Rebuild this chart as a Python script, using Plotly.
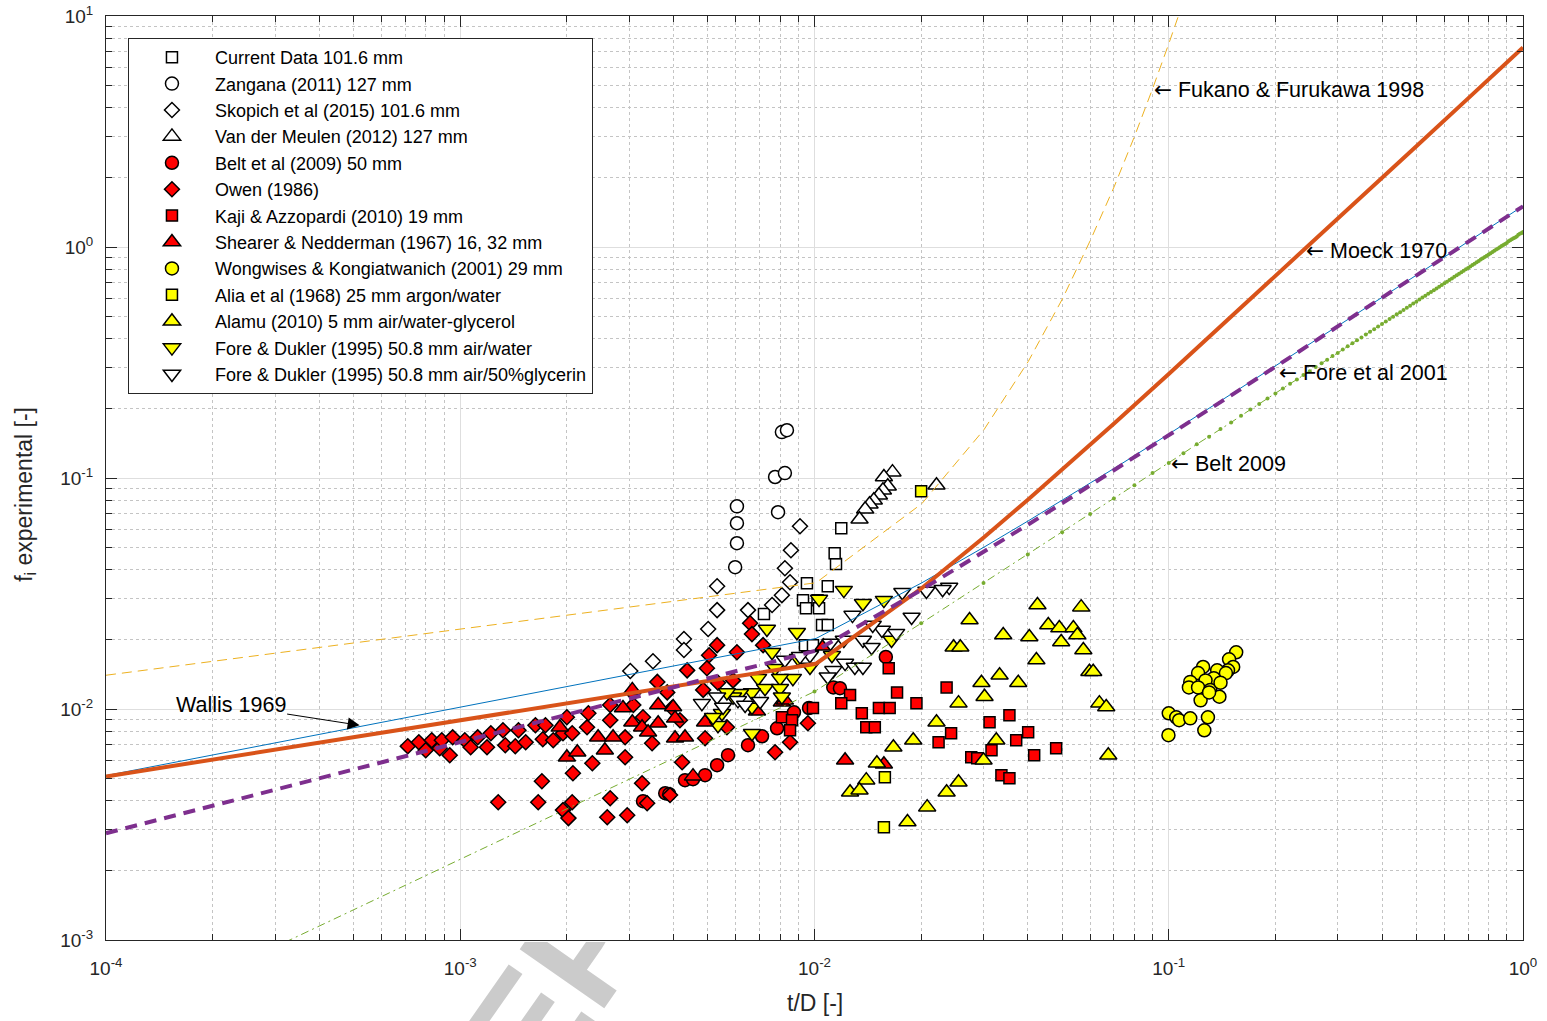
import math
import base64
import plotly.graph_objects as go

# ---------------- experimental data (t/D, f_i) ----------------
cur_td = [7.20e-3, 9.28e-3, 9.52e-3, 1.02e-2, 1.03e-2, 9.46e-3, 1.09e-2, 1.15e-2, 1.14e-2, 1.19e-2, 1.05e-2, 1.09e-2, 9.40e-3, 9.90e-3]
cur_f = [0.0258, 0.0296, 0.0350, 0.0296, 0.0273, 0.0273, 0.0340, 0.0424, 0.0472, 0.0606, 0.0231, 0.0231, 0.0189, 0.0189]

zan_td = [8.09e-3, 8.36e-3, 7.74e-3, 8.25e-3, 6.04e-3, 6.04e-3, 6.04e-3, 5.97e-3, 7.89e-3]
zan_f = [0.158, 0.161, 0.101, 0.105, 0.0754, 0.0637, 0.0522, 0.0411, 0.0711]

sko_td = [9.10e-3, 8.58e-3, 8.25e-3, 8.53e-3, 8.09e-3, 7.59e-3, 6.49e-3, 5.31e-3, 5.31e-3, 5.01e-3, 4.28e-3, 4.28e-3, 3.50e-3, 3.02e-3]
sko_f = [0.0618, 0.0487, 0.0407, 0.0354, 0.0311, 0.0282, 0.0268, 0.0340, 0.0268, 0.0222, 0.0201, 0.0180, 0.0161, 0.0146]

vdm_td = [1.66e-2, 1.57e-2, 1.61e-2, 1.56e-2, 1.52e-2, 1.47e-2, 1.43e-2, 1.39e-2, 1.34e-2, 2.21e-2]
vdm_f = [0.106, 0.101, 0.0921, 0.0885, 0.0842, 0.0801, 0.0770, 0.0732, 0.0663, 0.0930]

belt_td = [3.28e-3, 3.79e-3, 3.89e-3, 4.31e-3, 4.54e-3, 4.91e-3, 5.31e-3, 5.70e-3, 6.49e-3, 7.11e-3, 7.84e-3, 8.75e-3, 9.65e-3, 1.13e-2, 1.18e-2, 1.59e-2]
belt_fi = [3.99e-3, 4.32e-3, 4.28e-3, 4.92e-3, 4.97e-3, 5.17e-3, 5.71e-3, 6.31e-3, 6.97e-3, 7.62e-3, 8.25e-3, 9.68e-3, 1.01e-2, 1.24e-2, 1.23e-2, 1.68e-2]

owen_td = [7.11e-4, 7.64e-4, 7.99e-4, 8.31e-4, 8.75e-4, 8.87e-4, 9.34e-4, 9.52e-4, 1.03e-3, 1.07e-3,
           1.12e-3, 1.19e-3, 1.22e-3, 1.32e-3, 1.34e-3, 1.43e-3, 1.46e-3, 1.53e-3, 1.63e-3, 1.71e-3,
           1.74e-3, 1.83e-3, 1.95e-3,
           1.28e-3, 1.66e-3, 1.70e-3, 1.95e-3, 2.02e-3, 2.07e-3, 2.08e-3, 2.36e-3, 2.65e-3, 2.60e-3,
           2.96e-3, 3.26e-3, 3.37e-3, 3.91e-3, 2.92e-3, 3.48e-3, 4.23e-3, 7.74e-3, 8.53e-3, 9.58e-3,
           2.00e-3, 2.30e-3, 2.07e-3, 2.28e-3, 2.65e-3, 2.65e-3, 3.08e-3, 3.06e-3, 2.92e-3, 3.28e-3,
           3.60e-3, 3.84e-3, 3.96e-3, 4.17e-3, 4.37e-3, 4.85e-3, 4.97e-3, 5.34e-3, 5.04e-3, 5.31e-3,
           6.04e-3, 4.91e-3, 5.66e-3, 6.58e-3, 6.66e-3, 7.16e-3, 5.89e-3]
owen_f = [6.90e-3, 7.18e-3, 6.63e-3, 7.32e-3, 6.76e-3, 7.32e-3, 6.31e-3, 7.54e-3, 7.32e-3, 6.83e-3,
          7.54e-3, 6.83e-3, 7.85e-3, 8.09e-3, 6.97e-3, 6.90e-3, 8.09e-3, 7.18e-3, 8.50e-3, 7.40e-3,
          8.50e-3, 7.32e-3, 7.85e-3,
          3.95e-3, 3.95e-3, 4.87e-3, 3.65e-3, 3.37e-3, 3.95e-3, 5.27e-3, 5.82e-3, 4.11e-3, 3.40e-3,
          3.47e-3, 4.77e-3, 3.91e-3, 4.24e-3, 6.18e-3, 7.11e-3, 5.88e-3, 6.50e-3, 7.18e-3, 8.67e-3,
          9.21e-3, 9.58e-3, 7.85e-3, 8.33e-3, 1.04e-2, 8.94e-3, 1.04e-2, 1.18e-2, 7.54e-3, 9.21e-3,
          1.31e-2, 1.18e-2, 1.01e-2, 8.94e-3, 1.47e-2, 1.21e-2, 1.50e-2, 1.30e-2, 1.71e-2, 1.89e-2,
          1.76e-2, 7.47e-3, 8.33e-3, 2.35e-2, 2.11e-2, 1.89e-2, 1.33e-2]

kaji_td = [8.09e-3, 8.64e-3, 8.53e-3, 9.90e-3, 1.62e-2, 1.26e-2, 1.19e-2, 1.71e-2, 1.52e-2, 1.63e-2,
           1.36e-2, 1.40e-2, 1.48e-2, 1.94e-2, 2.36e-2, 3.12e-2, 3.55e-2, 2.43e-2, 2.24e-2, 3.71e-2,
           4.01e-2, 3.16e-2, 2.77e-2, 2.88e-2, 4.17e-2, 4.81e-2, 3.37e-2, 3.55e-2]
kaji_f = [9.21e-3, 8.94e-3, 8.09e-3, 1.01e-2, 1.50e-2, 1.15e-2, 1.06e-2, 1.18e-2, 1.01e-2, 1.01e-2,
          9.58e-3, 8.33e-3, 8.33e-3, 1.06e-2, 1.24e-2, 8.76e-3, 9.39e-3, 7.85e-3, 7.18e-3, 7.32e-3,
          7.93e-3, 6.63e-3, 6.18e-3, 6.12e-3, 6.31e-3, 6.76e-3, 5.17e-3, 5.02e-3]

shear_td = [1.91e-3, 2.00e-3, 2.14e-3, 2.45e-3, 2.56e-3, 2.70e-3, 2.88e-3, 3.06e-3, 3.06e-3, 3.26e-3,
            3.39e-3, 3.62e-3, 3.62e-3, 3.99e-3, 4.04e-3, 4.04e-3, 4.31e-3, 4.91e-3, 4.54e-3, 6.88e-3,
            8.09e-3, 8.25e-3, 1.06e-2, 1.22e-2, 1.57e-2]
shear_f = [8.33e-3, 6.18e-3, 6.50e-3, 7.54e-3, 6.63e-3, 7.54e-3, 1.01e-2, 1.21e-2, 8.76e-3, 8.33e-3,
           7.93e-3, 1.04e-2, 8.67e-3, 1.02e-2, 9.11e-3, 7.47e-3, 7.54e-3, 8.76e-3, 5.12e-3, 9.77e-3,
           1.07e-2, 1.09e-2, 1.87e-2, 6.00e-3, 5.77e-3]

wong_td = [0.155, 0.148, 0.152, 0.147, 0.125, 0.121, 0.137, 0.145, 0.134, 0.127,
           0.115, 0.114, 0.121, 0.131, 0.140, 0.123, 0.139, 0.130, 0.100, 0.105,
           0.107, 0.115, 0.129, 0.126, 0.0998]
wong_f = [1.76e-2, 1.64e-2, 1.52e-2, 1.47e-2, 1.52e-2, 1.43e-2, 1.47e-2, 1.43e-2, 1.36e-2, 1.33e-2,
          1.31e-2, 1.24e-2, 1.24e-2, 1.21e-2, 1.30e-2, 1.09e-2, 1.13e-2, 1.18e-2, 9.58e-3, 9.21e-3,
          8.94e-3, 9.11e-3, 9.21e-3, 8.09e-3, 7.70e-3]

alia_td = [2.00e-2, 1.58e-2, 1.57e-2]
alia_f = [8.76e-2, 5.07e-3, 3.08e-3]

alamu_td = [4.26e-2, 5.66e-2, 2.74e-2, 4.57e-2, 4.91e-2, 5.38e-2, 5.52e-2, 3.41e-2, 4.04e-2, 4.97e-2,
            2.47e-2, 2.58e-2, 5.74e-2, 4.23e-2, 5.97e-2, 6.12e-2, 3.33e-2, 2.96e-2, 3.76e-2, 3.02e-2,
            2.55e-2, 6.37e-2, 6.66e-2, 2.21e-2, 3.26e-2, 1.90e-2, 1.67e-2, 3.00e-2, 1.50e-2, 1.40e-2,
            1.26e-2, 1.34e-2, 2.55e-2, 2.36e-2, 2.08e-2, 1.83e-2, 6.75e-2]
alamu_f = [2.82e-2, 2.76e-2, 2.43e-2, 2.31e-2, 2.24e-2, 2.24e-2, 2.09e-2, 2.09e-2, 2.05e-2, 1.95e-2,
           1.85e-2, 1.85e-2, 1.80e-2, 1.63e-2, 1.45e-2, 1.45e-2, 1.40e-2, 1.30e-2, 1.30e-2, 1.13e-2,
           1.06e-2, 1.06e-2, 1.02e-2, 8.76e-3, 7.32e-3, 7.32e-3, 6.83e-3, 6.00e-3, 5.82e-3, 4.92e-3,
           4.36e-3, 4.45e-3, 4.82e-3, 4.36e-3, 3.76e-3, 3.24e-3, 6.31e-3]

fdw_td = [1.21e-2, 1.03e-2, 1.37e-2, 1.57e-2, 7.34e-3, 8.92e-3, 1.65e-2, 7.59e-3, 8.98e-3, 9.71e-3,
          1.12e-2, 7.74e-3, 8.69e-3, 7.99e-3, 6.93e-3, 7.25e-3, 7.99e-3, 8.09e-3, 6.66e-3, 6.16e-3,
          5.89e-3, 5.48e-3, 5.34e-3, 5.17e-3, 6.66e-3, 6.66e-3, 5.66e-3]
fdw_f = [3.27e-2, 2.99e-2, 2.87e-2, 2.96e-2, 2.22e-2, 2.15e-2, 1.99e-2, 1.76e-2, 1.66e-2, 1.52e-2,
         1.71e-2, 1.50e-2, 1.36e-2, 1.36e-2, 1.36e-2, 1.23e-2, 1.23e-2, 1.13e-2, 1.18e-2, 1.17e-2,
         1.13e-2, 9.58e-3, 8.50e-3, 9.21e-3, 7.85e-3, 1.02e-2, 1.18e-2]

fdg_td = [2.40e-2, 2.30e-2, 2.07e-2, 1.77e-2, 1.88e-2, 1.28e-2, 1.55e-2, 1.70e-2, 1.46e-2, 1.37e-2,
          1.45e-2, 1.21e-2, 1.11e-2, 1.22e-2, 1.30e-2, 1.37e-2, 1.13e-2, 1.09e-2, 9.71e-3, 8.25e-3,
          6.08e-3, 4.81e-3, 5.31e-3, 5.52e-3, 6.37e-3, 9.10e-3, 7.02e-3]
fdg_f = [3.37e-2, 3.30e-2, 3.24e-2, 3.20e-2, 2.50e-2, 2.55e-2, 2.20e-2, 2.13e-2, 2.31e-2, 1.99e-2,
         1.85e-2, 1.99e-2, 1.93e-2, 1.58e-2, 1.52e-2, 1.52e-2, 1.47e-2, 1.38e-2, 1.71e-2, 1.63e-2,
         1.09e-2, 1.06e-2, 1.13e-2, 1.02e-2, 1.04e-2, 1.69e-2, 1.08e-2]

# ---------------- correlation curves ----------------
fuk_td = [0.0001, 0.0101, 0.0201, 0.0301, 0.0401, 0.0501, 0.0601, 0.0701, 0.0801, 0.0901, 0.1001, 0.1101]
fuk_f = [0.0140, 0.0352, 0.0775, 0.162, 0.319, 0.596, 1.07, 1.82, 3.02, 4.86, 7.61, 11.6]

corr_td = [0.0001, 0.0101, 0.0201, 0.0301, 0.0401, 0.0501, 0.0701, 0.1, 0.15, 0.2, 0.3, 0.5, 0.7, 1.0]
wallis_f = [0.00515, 0.0202, 0.0352, 0.0502, 0.0652, 0.0802, 0.110, 0.155, 0.230, 0.305, 0.455, 0.755, 1.055, 1.505]
moeck_f = [0.00510, 0.0157, 0.0334, 0.0554, 0.0807, 0.109, 0.172, 0.282, 0.498, 0.747, 1.32, 2.73, 4.40, 7.30]
fore01_f = [0.00290, 0.0179, 0.0329, 0.0479, 0.0629, 0.0779, 0.108, 0.153, 0.228, 0.303, 0.453, 0.753, 1.05, 1.50]

beltc_td = [0.0001] + [round(0.01 * k, 2) for k in range(1, 101)]
beltc_f = [0.00042,
           0.0119, 0.0235, 0.0351, 0.0467, 0.0583, 0.0699, 0.0815, 0.0931, 0.105, 0.116,
           0.128, 0.140, 0.151, 0.163, 0.174, 0.186, 0.198, 0.209, 0.221, 0.232,
           0.244, 0.256, 0.267, 0.279, 0.290, 0.302, 0.314, 0.325, 0.337, 0.348,
           0.360, 0.372, 0.383, 0.395, 0.406, 0.418, 0.430, 0.441, 0.453, 0.464,
           0.476, 0.488, 0.499, 0.511, 0.522, 0.534, 0.546, 0.557, 0.569, 0.580,
           0.592, 0.604, 0.615, 0.627, 0.638, 0.650, 0.662, 0.673, 0.685, 0.696,
           0.708, 0.720, 0.731, 0.743, 0.754, 0.766, 0.778, 0.789, 0.801, 0.812,
           0.824, 0.836, 0.847, 0.859, 0.870, 0.882, 0.894, 0.905, 0.917, 0.928,
           0.940, 0.952, 0.963, 0.975, 0.986, 0.998, 1.01, 1.02, 1.03, 1.04,
           1.06, 1.07, 1.08, 1.09, 1.10, 1.11, 1.13, 1.14, 1.15, 1.16]

x_tickvals = [1e-4, 1e-3, 1e-2, 1e-1, 1]
x_ticktext = ['10<sup>-4</sup>', '10<sup>-3</sup>', '10<sup>-2</sup>', '10<sup>-1</sup>', '10<sup>0</sup>']
y_tickvals = [1e-3, 1e-2, 1e-1, 1, 10]
y_ticktext = ['10<sup>-3</sup>', '10<sup>-2</sup>', '10<sup>-1</sup>', '10<sup>0</sup>', '10<sup>1</sup>']

# ---------------- figure ----------------
FONT = 'Liberation Sans, Arial, Helvetica, sans-serif'
ARROW = '<span style="font-family:DejaVu Sans">\u2190</span> '
fig = go.Figure()

series = [
    ('Current Data 101.6 mm', cur_td, cur_f, 'square', 'white', 11),
    ('Zangana (2011) 127 mm', zan_td, zan_f, 'circle', 'white', 13),
    ('Skopich et al (2015) 101.6 mm', sko_td, sko_f, 'diamond', 'white', 11.5),
    ('Van der Meulen (2012) 127 mm', vdm_td, vdm_f, 'triangle-up', 'white', 15),
    ('Belt et al (2009) 50 mm', belt_td, belt_fi, 'circle', '#FF0000', 13),
    ('Owen (1986)', owen_td, owen_f, 'diamond', '#FF0000', 11.5),
    ('Kaji & Azzopardi (2010) 19 mm', kaji_td, kaji_f, 'square', '#FF0000', 11),
    ('Shearer & Nedderman (1967) 16, 32 mm', shear_td, shear_f, 'triangle-up', '#FF0000', 15),
    ('Wongwises & Kongiatwanich (2001) 29 mm', wong_td, wong_f, 'circle', '#FFFF00', 13),
    ('Alia et al (1968) 25 mm argon/water', alia_td, alia_f, 'square', '#FFFF00', 11),
    ('Alamu (2010) 5 mm air/water-glycerol', alamu_td, alamu_f, 'triangle-up', '#FFFF00', 15),
    ('Fore & Dukler (1995) 50.8 mm air/water', fdw_td, fdw_f, 'triangle-down', '#FFFF00', 15),
    ('Fore & Dukler (1995) 50.8 mm air/50%glycerin', fdg_td, fdg_f, 'triangle-down', 'white', 15),
]
for i, (name, xs, ys, sym, col, sz) in enumerate(series):
    fig.add_trace(go.Scatter(
        x=xs, y=ys, mode='markers', name=name, legendgroup='g%d' % i,
        marker=dict(symbol=sym, size=sz, color=col, line=dict(color='black', width=1.5)),
    ))

fig.add_trace(go.Scatter(x=fuk_td, y=fuk_f, mode='lines', showlegend=False,
                         line=dict(color='#EDB120', width=1, dash='10px,6px')))
fig.add_trace(go.Scatter(x=beltc_td, y=beltc_f, mode='lines+markers', showlegend=False,
                         line=dict(color='#77AC30', width=1, dash='8px,4px,2px,4px'),
                         marker=dict(color='#77AC30', size=4, symbol='circle')))
fig.add_trace(go.Scatter(x=corr_td, y=wallis_f, mode='lines', showlegend=False,
                         line=dict(color='#0072BD', width=1)))
fig.add_trace(go.Scatter(x=corr_td, y=moeck_f, mode='lines', showlegend=False,
                         line=dict(color='#D95319', width=4)))
fig.add_trace(go.Scatter(x=corr_td, y=fore01_f, mode='lines', showlegend=False,
                         line=dict(color='#7E2F8E', width=4, dash='12px,8px')))

minor_x = [m * 10.0 ** k for k in range(-4, 0) for m in range(2, 10)]
minor_y = [m * 10.0 ** k for k in range(-3, 1) for m in range(2, 10)]

axis_common = dict(
    type='log', showline=True, linecolor='#262626', linewidth=1, mirror='ticks',
    ticks='inside', ticklen=11, tickcolor='#262626', tickwidth=1,
    showgrid=True, gridcolor='#dedede', gridwidth=1, zeroline=False,
    tickfont=dict(size=19, family=FONT, color='#262626'),
)
fig.update_xaxes(range=[-4, 0], tickvals=x_tickvals, ticktext=x_ticktext, ticklabelstandoff=11,
                 minor=dict(tickvals=minor_x, ticks='inside', ticklen=6, tickcolor='#262626',
                            showgrid=True, gridcolor='#c4c4c4', griddash='dot', gridwidth=1),
                 **axis_common)
fig.update_yaxes(range=[-3, 1], tickvals=y_tickvals, ticktext=y_ticktext, ticklabelstandoff=8,
                 minor=dict(tickvals=minor_y, ticks='inside', ticklen=6, tickcolor='#262626',
                            showgrid=True, gridcolor='#c4c4c4', griddash='dot', gridwidth=1),
                 **axis_common)

def label(text, xv, yv):
    return dict(x=math.log10(xv), y=math.log10(yv), xref='x', yref='y', text=ARROW + text,
                showarrow=False, xanchor='left', yanchor='middle',
                font=dict(size=21.5, family=FONT, color='black'))

annotations = [
    label('Fukano &amp; Furukawa 1998', 0.0895, 4.82),
    label('Moeck 1970', 0.241, 0.968),
    label('Fore et al 2001', 0.202, 0.287),
    label('Belt 2009', 0.100, 0.116),
    dict(x=math.log10(5.2e-4), y=math.log10(8.5e-3), xref='x', yref='y', text='Wallis 1969',
         showarrow=True, ax=-129, ay=-20, axref='pixel', ayref='pixel',
         arrowhead=2, arrowsize=2.4, arrowwidth=1, arrowcolor='black', standoff=0,
         font=dict(size=21.5, family=FONT, color='black')),
    dict(x=0.5, y=-0.068, xref='paper', yref='paper', text='t/D [-]', showarrow=False,
         xanchor='center', yanchor='middle', font=dict(size=23, family=FONT, color='#262626')),
    dict(x=-0.057, y=0.482, xref='paper', yref='paper', text='f<sub>i</sub> experimental [-]',
         showarrow=False, textangle=-90, xanchor='center', yanchor='middle',
         font=dict(size=23, family=FONT, color='#262626')),
]

# faint watermark that only shows in the bottom margin (clipped below the plot area)
wm_svg = ('<svg xmlns="http://www.w3.org/2000/svg" width="1547" height="1021" viewBox="0 0 1547 1021">'
          '<defs><clipPath id="cb"><rect x="0" y="942" width="1547" height="79"/></clipPath></defs>'
          '<g clip-path="url(#cb)">'
          '<text x="890" y="600" transform="rotate(-55 890 600)" text-anchor="middle" '
          'font-family="Liberation Sans, Arial, sans-serif" font-weight="bold" font-size="150" '
          'fill="#cbcbcb">ACCEPTED MANUSCRIPT</text></g></svg>')
wm_uri = 'data:image/svg+xml;base64,' + base64.b64encode(wm_svg.encode('utf-8')).decode('ascii')

fig.update_layout(
    width=1547, height=1021,
    margin=dict(l=106, r=24, t=16, b=81, autoexpand=False),
    paper_bgcolor='white', plot_bgcolor='white',
    font=dict(family=FONT, color='#262626'),
    showlegend=True,
    legend=dict(x=0.0155, y=0.9762, xanchor='left', yanchor='top', bgcolor='white',
                bordercolor='#262626', borderwidth=1, font=dict(size=18, family=FONT, color='black'),
                itemwidth=76, tracegroupgap=0, traceorder='normal'),
    annotations=annotations,
    images=[dict(source=wm_uri, xref='paper', yref='paper', x=-106 / 1417, y=1 + 16 / 924,
                 sizex=1547 / 1417, sizey=1021 / 924, xanchor='left', yanchor='top',
                 sizing='stretch', layer='below')],
)

fig.write_html('out.html')
